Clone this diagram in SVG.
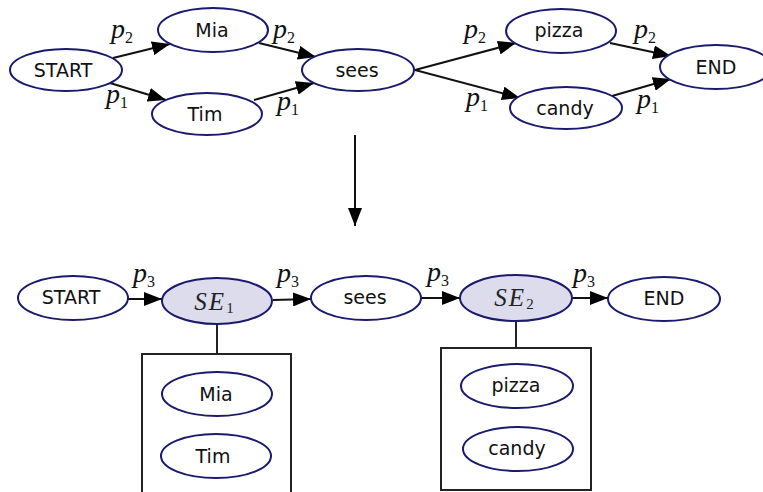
<svg xmlns="http://www.w3.org/2000/svg" width="763" height="492" viewBox="0 0 763 492">
<style>
.n ellipse{fill:#fff;stroke:#1a1a6e;stroke-width:2}
.n.se ellipse{fill:#dcdcec}
.n text{font-family:"DejaVu Sans",sans-serif;font-size:19px;fill:#111;text-anchor:middle}
.n text.m{font-family:"Liberation Serif",serif;font-style:italic;font-size:25px;fill:#222;letter-spacing:2px}
.e line{stroke:#111;stroke-width:2;marker-end:url(#ah)}
.b{fill:#fff;stroke:#222;stroke-width:2}
.lbl{font-family:"Liberation Serif",serif;font-style:italic;font-size:28px;fill:#111}
.lbl tspan{font-style:normal;font-size:16px}
</style>
<defs>
<marker id="ah" markerUnits="userSpaceOnUse" markerWidth="19" markerHeight="14" refX="18" refY="7" orient="auto">
<path d="M0,0 L18,7 L0,14 z" fill="#000"/>
</marker>
</defs>
<rect width="763" height="492" fill="#fff"/>

<g id="connectors" class="e">
<line x1="113" y1="58" x2="170" y2="44"/>
<line x1="110" y1="83" x2="166" y2="100"/>
<line x1="259" y1="43" x2="316" y2="57"/>
<line x1="254" y1="100" x2="314" y2="83"/>
<line x1="415" y1="70" x2="516" y2="43"/>
<line x1="415" y1="70" x2="520" y2="98"/>
<line x1="610" y1="43" x2="671" y2="56"/>
<line x1="612" y1="96" x2="671" y2="79"/>
<line x1="355" y1="135" x2="355" y2="226"/>
<line x1="128" y1="299" x2="162" y2="299"/>
<line x1="273" y1="300" x2="311" y2="299"/>
<line x1="422" y1="298" x2="460" y2="298"/>
<line x1="572" y1="298" x2="608" y2="298"/>
<path d="M217,324 V354 M516,320 V348" stroke="#222" stroke-width="2" fill="none"/>
</g>

<g id="labels">
<text class="lbl" x="111" y="38">p<tspan dy="5">2</tspan></text>
<text class="lbl" x="106" y="103">p<tspan dy="5">1</tspan></text>
<text class="lbl" x="273" y="38">p<tspan dy="5">2</tspan></text>
<text class="lbl" x="277" y="110">p<tspan dy="5">1</tspan></text>
<text class="lbl" x="464" y="38">p<tspan dy="5">2</tspan></text>
<text class="lbl" x="466" y="106">p<tspan dy="5">1</tspan></text>
<text class="lbl" x="634" y="38">p<tspan dy="5">2</tspan></text>
<text class="lbl" x="637" y="108">p<tspan dy="5">1</tspan></text>
<text class="lbl" x="133" y="282">p<tspan dy="5">3</tspan></text>
<text class="lbl" x="277" y="282">p<tspan dy="5">3</tspan></text>
<text class="lbl" x="427" y="281">p<tspan dy="5">3</tspan></text>
<text class="lbl" x="573" y="282">p<tspan dy="5">3</tspan></text>
</g>

<g id="n-start" class="n"><ellipse cx="66" cy="70" rx="56" ry="21"/><text x="63" y="77">START</text></g>
<g id="n-mia" class="n"><ellipse cx="213" cy="30" rx="55" ry="22"/><text x="212" y="37">Mia</text></g>
<g id="n-tim" class="n"><ellipse cx="207" cy="114" rx="55" ry="21"/><text x="205" y="121">Tim</text></g>
<g id="n-sees" class="n"><ellipse cx="358" cy="70" rx="56" ry="21"/><text x="357" y="77">sees</text></g>
<g id="n-pizza" class="n"><ellipse cx="561" cy="31" rx="55" ry="22"/><text x="559" y="37">pizza</text></g>
<g id="n-candy" class="n"><ellipse cx="566" cy="108" rx="56" ry="21"/><text x="565" y="115">candy</text></g>
<g id="n-end" class="n"><ellipse cx="716" cy="67" rx="56" ry="22"/><text x="716" y="74">END</text></g>

<g id="n-start2" class="n"><ellipse cx="73" cy="298" rx="55" ry="22"/><text x="71" y="304">START</text></g>
<g id="n-se1" class="n se"><ellipse cx="217" cy="301" rx="55" ry="23"/><text class="m" x="214" y="310">SE<tspan font-style="normal" font-size="15" dy="3" letter-spacing="0">1</tspan></text></g>
<g id="n-sees2" class="n"><ellipse cx="366" cy="298" rx="55" ry="22"/><text x="365" y="304">sees</text></g>
<g id="n-se2" class="n se"><ellipse cx="516" cy="298" rx="56" ry="23"/><text class="m" x="514" y="306">SE<tspan font-style="normal" font-size="15" dy="3" letter-spacing="0">2</tspan></text></g>
<g id="n-end2" class="n"><ellipse cx="664" cy="299" rx="56" ry="22"/><text x="664" y="305">END</text></g>

<g id="box1">
<rect class="b" x="142" y="354" width="149" height="150"/>
<g id="n-mia2" class="n"><ellipse cx="217" cy="394" rx="55" ry="22"/><text x="216" y="401">Mia</text></g>
<g id="n-tim2" class="n"><ellipse cx="216" cy="456" rx="55" ry="22"/><text x="213" y="463">Tim</text></g>
</g>
<g id="box2">
<rect class="b" x="441" y="348" width="150" height="142"/>
<g id="n-pizza2" class="n"><ellipse cx="517" cy="386" rx="56" ry="22"/><text x="516" y="392">pizza</text></g>
<g id="n-candy2" class="n"><ellipse cx="518" cy="449" rx="55" ry="22"/><text x="517" y="455">candy</text></g>
</g>
</svg>
